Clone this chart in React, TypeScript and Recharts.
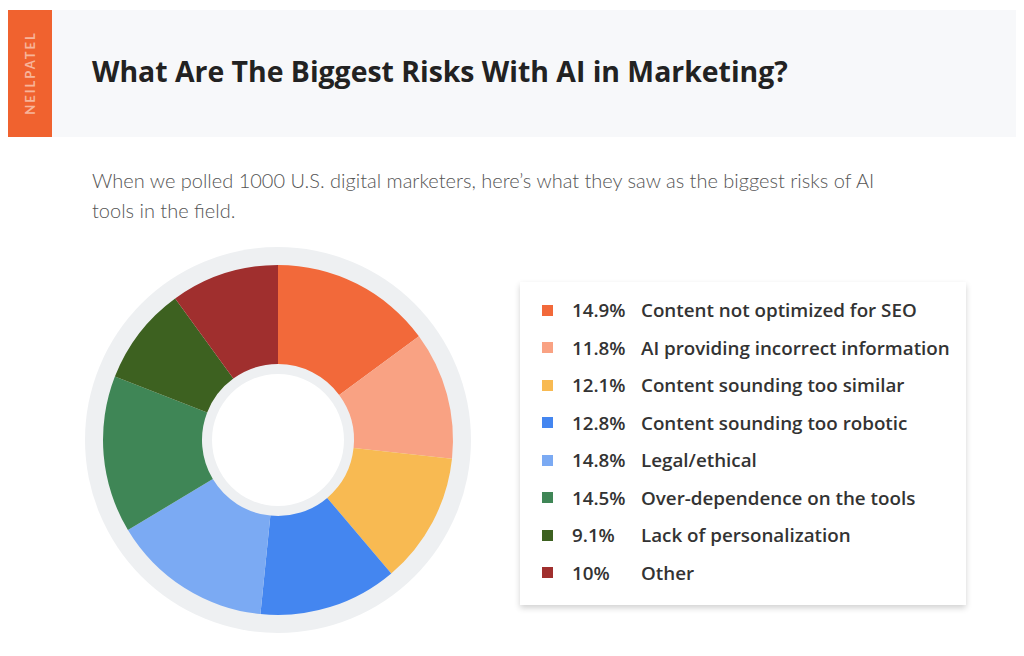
import { PieChart, Pie, Cell } from 'recharts'

const labels = [
  'Content not optimized for SEO',
  'AI providing incorrect information',
  'Content sounding too similar',
  'Content sounding too robotic',
  'Legal/ethical',
  'Over-dependence on the tools',
  'Lack of personalization',
  'Other',
]
const shares = [14.9, 11.8, 12.1, 12.8, 14.8, 14.5, 9.1, 10]
const shareLabels = ['14.9%', '11.8%', '12.1%', '12.8%', '14.8%', '14.5%', '9.1%', '10%']
const colors = ['#F2693A', '#F9A283', '#F8BA52', '#4486F0', '#7BAAF3', '#3F8656', '#3D6120', '#A02F2E']

const data = labels.map((name, i) => ({ name, value: shares[i] }))

const FONT = 'Lato, "Open Sans", sans-serif'
const BOLD_FONT = '"Open Sans", Lato, sans-serif'

export default function App() {
  return (
    <div
      style={{
        position: 'absolute',
        left: 0,
        top: 0,
        width: 1024,
        height: 656,
        background: '#fff',
        fontFamily: FONT,
        overflow: 'hidden',
      }}
    >
      {/* header band */}
      <div style={{ position: 'absolute', left: 8, top: 10, width: 1008, height: 127, background: '#f7f8fa' }} />
      <div style={{ position: 'absolute', left: 8, top: 10, width: 44, height: 127, background: '#F0622F' }}>
        <div
          style={{
            position: 'absolute',
            left: 22,
            top: 63,
            transform: 'translate(-50%, -50%) rotate(-90deg)',
            color: '#F7B49A',
            fontSize: 13,
            fontWeight: 700,
            letterSpacing: 2,
            whiteSpace: 'nowrap',
          }}
        >
          NEILPATEL
        </div>
      </div>
      <div
        style={{
          position: 'absolute',
          left: 92,
          top: 52,
          fontFamily: BOLD_FONT,
          fontSize: 28.4,
          fontWeight: 700,
          color: '#222',
          whiteSpace: 'nowrap',
        }}
      >
        What Are The Biggest Risks With AI in Marketing?
      </div>
      <div
        style={{
          position: 'absolute',
          left: 92,
          top: 165,
          width: 860,
          fontSize: 20,
          fontWeight: 300,
          lineHeight: '30px',
          color: '#555',
        }}
      >
        When we polled 1000 U.S. digital marketers, here’s what they saw as the biggest risks of AI
        <br />
        tools in the field.
      </div>

      {/* pie */}
      <div
        style={{
          position: 'absolute',
          left: 278 - 193,
          top: 440 - 193,
          width: 386,
          height: 386,
          borderRadius: '50%',
          background: '#eef0f2',
        }}
      />
      <div style={{ position: 'absolute', left: 78, top: 240 }}>
        <PieChart width={400} height={400} margin={{ top: 0, right: 0, bottom: 0, left: 0 }}>
          <Pie
            data={data}
            dataKey="value"
            cx={200}
            cy={200}
            innerRadius={76}
            outerRadius={175}
            startAngle={90}
            endAngle={-270}
            stroke="none"
            isAnimationActive={false}
          >
            {data.map((d, i) => (
              <Cell key={d.name} fill={colors[i]} />
            ))}
          </Pie>
        </PieChart>
      </div>
      <div
        style={{
          position: 'absolute',
          left: 278 - 66,
          top: 440 - 66,
          width: 132,
          height: 132,
          borderRadius: '50%',
          background: '#fff',
        }}
      />

      {/* legend */}
      <div
        style={{
          position: 'absolute',
          left: 520,
          top: 282,
          width: 446,
          height: 323,
          background: '#fff',
          boxShadow: '0 3px 6px rgba(0,0,0,0.18)',
        }}
      >
        {labels.map((name, i) => (
          <div
            key={name}
            style={{
              position: 'absolute',
              left: 0,
              top: 28 + i * 37.5 - 13,
              height: 26,
              display: 'flex',
              alignItems: 'center',
              fontFamily: BOLD_FONT,
              fontSize: 18.8,
              fontWeight: 600,
              color: '#333',
              whiteSpace: 'nowrap',
            }}
          >
            <span style={{ display: 'inline-block', width: 11, height: 11, background: colors[i], marginLeft: 22 }} />
            <span style={{ position: 'absolute', left: 52 }}>{shareLabels[i]}</span>
            <span style={{ position: 'absolute', left: 121 }}>{name}</span>
          </div>
        ))}
      </div>
    </div>
  )
}
